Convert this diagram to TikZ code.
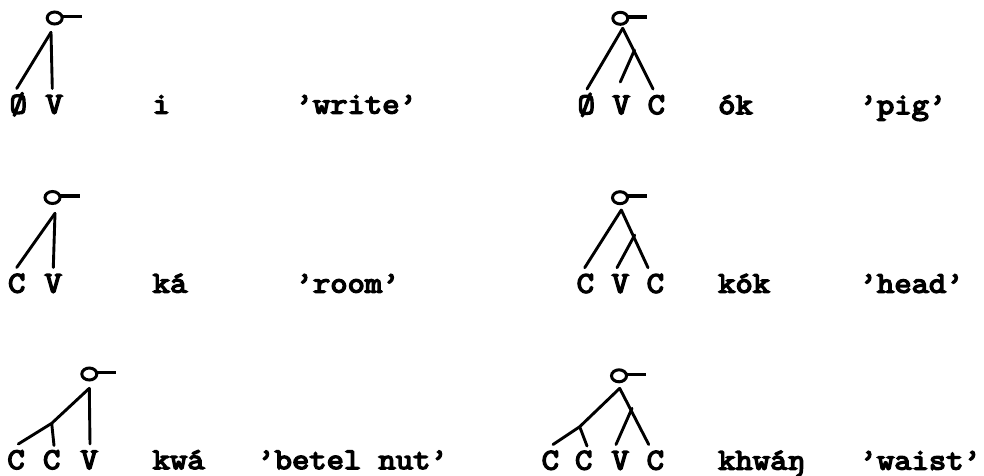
\documentclass[tikz,border=0pt]{standalone}
\usepackage{fontspec}
\usetikzlibrary{shapes.geometric}
\newfontfamily\twfont[FakeStretch=1.12,FakeBold=5]{lmmono12-regular.otf}
\tikzset{
  tw/.style={font=\twfont\fontsize{30}{32}\selectfont},
  sig/.style={draw, ellipse, minimum width=15pt, minimum height=12pt,
    inner sep=0pt, line width=3pt},
  bar/.style={line width=3.6pt},
  leaf/.style={tw, anchor=base, inner sep=0pt, text height=18pt,
    text depth=0pt, outer ysep=7pt},
  word/.style={tw, anchor=base west, inner sep=0pt},
  branch/.style={line width=2.9pt, line cap=round, line join=round}
}
\begin{document}
\begin{tikzpicture}[x=1pt,y=-1pt]
\useasboundingbox (0,0) rectangle (984,475);

% ---- left column -------------------------------------------------
% i 'write'
\node[sig] (s1) at (54.7,18) {};
\coordinate (r1) at (51,32.3);
\node[leaf] (l1a) at (18.3,113.5) {Ø};
\node[leaf] (l1b) at (54.3,113.5) {V};
\draw[branch] (r1) -- ([xshift=-1.6pt]l1a.north);
\draw[branch] (r1) -- ([xshift=-2pt]l1b.north);
\node[word] (w1) at (152.5,113.5) {i};
\node[word] (g1) at (295.5,113.5) {’write’};

% ka 'room'
\node[sig] (s2) at (52.5,197.5) {};
\coordinate (r2) at (55,213.3);
\node[leaf] (l2a) at (16.7,292.5) {C};
\node[leaf] (l2b) at (53.3,292.5) {V};
\draw[branch] (r2) -- (l2a.north);
\draw[branch] (r2) -- (l2b.north);
\node[word] (w2) at (152.5,292.5) {ká};
\node[word] (g2) at (295.5,292.5) {’room’};

% kwa 'betel nut'
\node[sig] (s3) at (89.3,374) {};
\coordinate (r3) at (89.3,388.3);
\coordinate (b3) at (51.7,423.3);
\node[leaf] (l3a) at (16,469) {C};
\node[leaf] (l3b) at (51.7,469) {C};
\node[leaf] (l3c) at (89.3,469) {V};
\draw[branch] (r3) -- (b3) -- ([xshift=2.3pt]l3a.north);
\draw[branch] (b3) -- ([xshift=2.3pt,yshift=-1.5pt]l3b.north);
\draw[branch] (r3) -- ([xshift=0.7pt]l3c.north);
\node[word] (w3) at (152.5,469) {kwá};
\node[word] (g3) at (257.2,469) {’betel nut’};

% ---- right column ------------------------------------------------
% ok 'pig'
\node[sig] (s4) at (620.3,18.3) {};
\coordinate (r4) at (622.7,28.3);
\coordinate (b4) at (634.5,50);
\node[leaf] (l4a) at (586.3,114) {Ø};
\node[leaf] (l4b) at (621.3,114) {V};
\node[leaf] (l4c) at (656.3,114) {C};
\draw[branch] (r4) -- ([xshift=0.7pt]l4a.north);
\draw[branch] (r4) -- ([xshift=-3.3pt]l4c.north);
\draw[branch] (b4) -- ([xshift=-1pt,yshift=7pt]l4b.north);
\node[word] (w4) at (718,114) {ók};
\node[word] (g4) at (859.5,114) {’pig’};

% kok 'head'
\node[sig] (s5) at (620,197.7) {};
\coordinate (r5) at (621.3,210);
\coordinate (b5) at (634.7,235);
\node[leaf] (l5a) at (585.3,292.7) {C};
\node[leaf] (l5b) at (620.3,292.7) {V};
\node[leaf] (l5c) at (655.3,292.7) {C};
\draw[branch] (r5) -- ([xshift=-0.6pt]l5a.north);
\draw[branch] (r5) -- ([xshift=-7.3pt]l5c.north);
\draw[branch] (b5) -- ([xshift=-3.3pt]l5b.north);
\node[word] (w5) at (718,292.7) {kók};
\node[word] (g5) at (859.5,292.7) {’head’};

% khwang 'waist'
\node[sig] (s6) at (619,375.8) {};
\coordinate (r6) at (619.7,388.3);
\coordinate (b6) at (632,408.3);
\coordinate (c6) at (579.7,426.7);
\node[leaf] (l6a) at (550.3,469.5) {C};
\node[leaf] (l6b) at (583.7,469.5) {C};
\node[leaf] (l6c) at (620.3,469.5) {V};
\node[leaf] (l6d) at (655.3,469.5) {C};
\draw[branch] (r6) -- (c6) -- ([xshift=2.7pt]l6a.north);
\draw[branch] (c6) -- ([xshift=3.3pt,yshift=-1.5pt]l6b.north);
\draw[branch] (r6) -- ([xshift=-6.6pt]l6d.north);
\draw[branch] (b6) -- ([xshift=-4.3pt]l6c.north);
\node[word] (w6) at (718,469.5) {khwáŋ};
\node[word] (g6) at (859.5,469.5) {’waist’};

% tails of the sigma symbols
\foreach \s in {s1,s2,s3,s4,s5,s6}
  \draw[bar] ([xshift=6pt,yshift=1.5pt]\s.center) -- ++(21,0);
\end{tikzpicture}
\end{document}
